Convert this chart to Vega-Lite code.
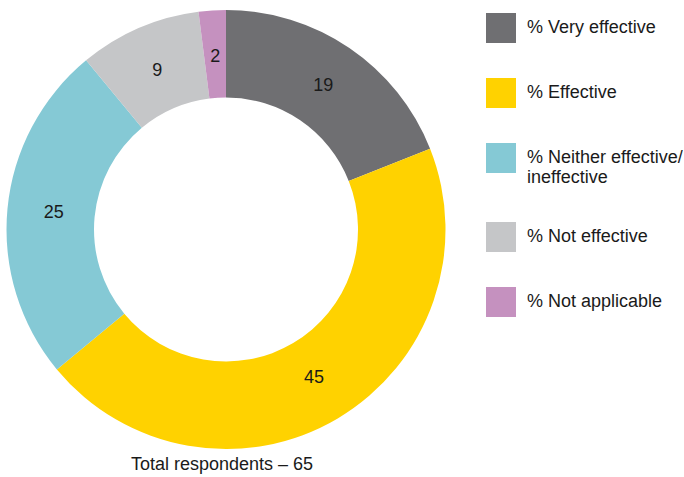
{
  "$schema": "https://vega.github.io/schema/vega-lite/v6.json",
  "width": 452,
  "height": 459,
  "padding": 0,
  "autosize": {"type": "pad"},
  "background": "white",
  "title": {
    "text": "Total respondents – 65",
    "orient": "bottom",
    "anchor": "middle",
    "fontSize": 18,
    "fontWeight": "normal",
    "font": "Liberation Sans",
    "color": "#1a1a1a",
    "offset": -3,
    "dx": -4
  },
  "data": {
    "values": [
      {"category": "% Very effective", "value": 19, "rank": 1},
      {"category": "% Effective", "value": 45, "rank": 2},
      {"category": "% Neither effective/ ineffective", "value": 25, "rank": 3},
      {"category": "% Not effective", "value": 9, "rank": 4},
      {"category": "% Not applicable", "value": 2, "rank": 5}
    ]
  },
  "encoding": {
    "theta": {"field": "value", "type": "quantitative", "stack": true},
    "order": {"field": "rank", "type": "quantitative"}
  },
  "layer": [
    {
      "mark": {"type": "arc", "outerRadius": 219.5, "innerRadius": 132},
      "encoding": {
        "color": {
          "field": "category",
          "type": "nominal",
          "scale": {
            "domain": ["% Very effective", "% Effective", "% Neither effective/ ineffective", "% Not effective", "% Not applicable"],
            "range": ["#6f6f72", "#ffd200", "#85c9d5", "#c5c6c8", "#c591bf"]
          },
          "legend": {
            "orient": "none",
            "legendX": 486,
            "legendY": 13,
            "title": null,
            "symbolType": "square",
            "symbolSize": 900,
            "symbolStrokeWidth": 0,
            "symbolOpacity": 1,
            "labelFont": "Liberation Sans",
            "labelFontSize": 18,
            "labelLineHeight": 20,
            "labelColor": "#1a1a1a",
            "labelOffset": 11,
            "labelLimit": 300,
            "rowPadding": 35,
            "labelExpr": "datum.label == '% Neither effective/ ineffective' ? ['% Neither effective/', 'ineffective'] : datum.label"
          }
        }
      }
    },
    {
      "mark": {"type": "text", "radius": 173, "fontSize": 18, "font": "Liberation Sans", "color": "#1a1a1a"},
      "encoding": {
        "text": {"field": "value", "type": "quantitative"}
      }
    }
  ]
}
